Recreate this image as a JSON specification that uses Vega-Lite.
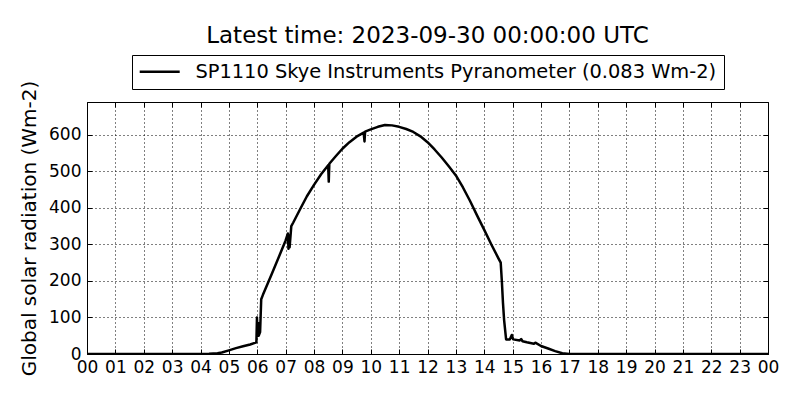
{
  "$schema": "https://vega.github.io/schema/vega-lite/v6.json",
  "autosize": {"type": "none"},
  "width": 681,
  "height": 252,
  "padding": {"left": 87, "top": 102, "right": 32, "bottom": 46},
  "background": "white",
  "title": {"text": "Latest time: 2023-09-30 00:00:00 UTC", "font": "DejaVu Sans", "fontSize": 23, "fontWeight": "normal", "color": "black", "anchor": "middle", "offset": 7},
  "config": {
    "view": {"stroke": "black", "strokeWidth": 1},
    "axis": {"domain": false, "gridColor": "black", "gridDash": [1, 3], "gridOpacity": 1, "gridWidth": 1,
      "labelFont": "DejaVu Sans", "labelFontSize": 17, "labelColor": "black", "tickColor": "black", "tickSize": -5,
      "titleFont": "DejaVu Sans", "titleFontSize": 20, "titleFontWeight": "normal", "titleColor": "black"}
  },
  "data": {"values": [
    {"h": 0, "v": 0}, {"h": 4.0, "v": 0}, {"h": 4.3, "v": 0.5}, {"h": 4.6, "v": 2}, {"h": 4.75, "v": 4},
    {"h": 5.0, "v": 10}, {"h": 5.25, "v": 16}, {"h": 5.5, "v": 21}, {"h": 5.75, "v": 26}, {"h": 5.97, "v": 32},
    {"h": 5.99, "v": 100}, {"h": 6.01, "v": 50}, {"h": 6.03, "v": 85}, {"h": 6.05, "v": 50}, {"h": 6.1, "v": 60},
    {"h": 6.14, "v": 150}, {"h": 6.2, "v": 162}, {"h": 6.5, "v": 217}, {"h": 6.8, "v": 273}, {"h": 7.0, "v": 311},
    {"h": 7.08, "v": 330}, {"h": 7.1, "v": 288}, {"h": 7.12, "v": 325}, {"h": 7.14, "v": 292}, {"h": 7.2, "v": 350},
    {"h": 7.27, "v": 360}, {"h": 7.5, "v": 395}, {"h": 7.75, "v": 432}, {"h": 8.0, "v": 463}, {"h": 8.25, "v": 492},
    {"h": 8.5, "v": 517}, {"h": 8.52, "v": 472}, {"h": 8.54, "v": 521}, {"h": 8.75, "v": 540}, {"h": 9.0, "v": 562},
    {"h": 9.25, "v": 580}, {"h": 9.5, "v": 595}, {"h": 9.75, "v": 606}, {"h": 9.78, "v": 582}, {"h": 9.8, "v": 609},
    {"h": 10.0, "v": 615}, {"h": 10.25, "v": 622}, {"h": 10.5, "v": 627}, {"h": 10.75, "v": 626}, {"h": 11.0, "v": 622},
    {"h": 11.25, "v": 616}, {"h": 11.5, "v": 608}, {"h": 11.75, "v": 596}, {"h": 12.0, "v": 580}, {"h": 12.25, "v": 560},
    {"h": 12.5, "v": 538}, {"h": 12.75, "v": 514}, {"h": 13.0, "v": 489}, {"h": 13.25, "v": 456}, {"h": 13.5, "v": 419},
    {"h": 13.75, "v": 379}, {"h": 14.0, "v": 340}, {"h": 14.25, "v": 300}, {"h": 14.5, "v": 262}, {"h": 14.58, "v": 250},
    {"h": 14.62, "v": 200}, {"h": 14.66, "v": 140}, {"h": 14.7, "v": 93}, {"h": 14.77, "v": 40}, {"h": 14.9, "v": 40},
    {"h": 14.97, "v": 52}, {"h": 15.02, "v": 40}, {"h": 15.25, "v": 37}, {"h": 15.3, "v": 41}, {"h": 15.35, "v": 35},
    {"h": 15.5, "v": 32}, {"h": 15.75, "v": 28}, {"h": 15.8, "v": 31}, {"h": 16.0, "v": 22}, {"h": 16.25, "v": 15},
    {"h": 16.5, "v": 8}, {"h": 16.75, "v": 2}, {"h": 17.0, "v": 0}, {"h": 24, "v": 0}
  ]},
  "layer": [
    {
      "mark": {"type": "line", "strokeOpacity": 0},
      "encoding": {
        "x": {"field": "h", "type": "quantitative", "scale": {"domain": [0, 24], "nice": false, "zero": false},
          "axis": {"orient": "top", "title": null, "labels": false, "grid": false, "values": [0,1,2,3,4,5,6,7,8,9,10,11,12,13,14,15,16,17,18,19,20,21,22,23,24]}},
        "y": {"field": "v", "type": "quantitative", "scale": {"domain": [0, 690], "nice": false},
          "axis": {"orient": "right", "title": null, "labels": false, "grid": false, "values": [0, 100, 200, 300, 400, 500, 600]}}
      }
    },
    {
      "mark": {"type": "line", "strokeWidth": 2.5, "strokeJoin": "round", "clip": true},
      "encoding": {
        "x": {"field": "h", "type": "quantitative", "title": null,
          "scale": {"domain": [0, 24], "nice": false, "zero": false},
          "axis": {"orient": "bottom", "grid": true, "values": [0,1,2,3,4,5,6,7,8,9,10,11,12,13,14,15,16,17,18,19,20,21,22,23,24],
            "labelExpr": "(datum.value % 24 < 10 ? '0' : '') + (datum.value % 24)", "labelPadding": 10, "labelFlush": false, "labelOverlap": false}},
        "y": {"field": "v", "type": "quantitative", "title": "Global solar radiation (Wm-2)",
          "scale": {"domain": [0, 690], "nice": false},
          "axis": {"orient": "left", "grid": true, "values": [0, 100, 200, 300, 400, 500, 600], "labelPadding": 11, "titlePadding": 9}},
        "color": {"datum": "SP1110 Skye Instruments Pyranometer (0.083 Wm-2)", "type": "nominal",
          "scale": {"range": ["black"]},
          "legend": {"title": null, "orient": "none", "legendX": 45, "legendY": -47, "strokeColor": "black", "fillColor": "white",
            "padding": 7, "symbolType": "M-20,0H20", "symbolSize": 4, "symbolStrokeWidth": 2.5, "symbolOffset": 11, "labelOffset": 26,
            "labelFont": "DejaVu Sans", "labelFontSize": 19.4, "labelColor": "black", "labelLimit": 1000, "cornerRadius": 0}}
      }
    }
  ],
  "resolve": {"scale": {"x": "independent", "y": "independent"}}
}
